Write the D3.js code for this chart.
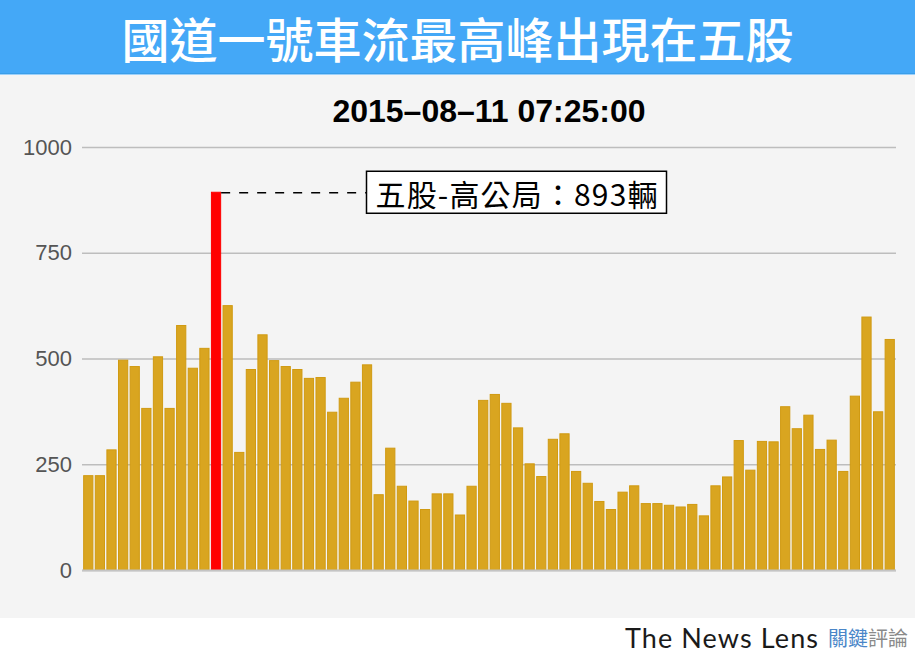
<!DOCTYPE html>
<html>
<head>
<meta charset="utf-8">
<script src="https://cdn.jsdelivr.net/npm/d3@7"></script>
<style>
  html, body { margin: 0; padding: 0; background: #ffffff; }
  svg { display: block; }
</style>
</head>
<body>
<div id="chart"></div>
<script>
// ---- data ----
const titleText = "國道一號車流最高峰出現在五股";
const subtitleText = "2015–08–11 07:25:00";
const values = [
  223, 223, 284, 496, 481, 382, 504, 382, 578, 477,
  524, 893, 625, 278, 474, 556, 495, 481, 474, 453,
  455, 373, 406, 444, 485, 178, 288, 198, 163, 143,
  180, 180, 130, 198, 401, 415, 394, 336, 251, 221,
  309, 322, 233, 205, 162, 143, 184, 199, 157, 157,
  153, 149, 155, 128, 199, 220, 306, 236, 304, 303,
  386, 334, 366, 285, 307, 233, 411, 598, 374, 545
];
const categories = values.map((v, i) => i + 1);
const yTicks = [0, 250, 500, 750, 1000];
const peakLabel = "五股-高公局";
const peakUnit = "輛";

// ---- layout ----
const W = 915, H = 657;
const plot = { left: 82, right: 896, top: 147, bottom: 570 };

const svg = d3.select("#chart").append("svg")
  .attr("width", W).attr("height", H);

// backgrounds
svg.append("rect").attr("x", 0).attr("y", 0).attr("width", W).attr("height", H).attr("fill", "#ffffff");
svg.append("rect").attr("x", 0).attr("y", 75).attr("width", W).attr("height", 543).attr("fill", "#f4f4f4");
svg.append("rect").attr("x", 0).attr("y", 0).attr("width", W).attr("height", 73).attr("fill", "#44a8f7");
svg.append("rect").attr("x", 0).attr("y", 73).attr("width", W).attr("height", 1).attr("fill", "#3a9ee9");
svg.append("rect").attr("x", 0).attr("y", 74).attr("width", W).attr("height", 1).attr("fill", "#9cd0fa");

// title
svg.append("text")
  .attr("x", W / 2).attr("y", 37)
  .attr("text-anchor", "middle")
  .attr("dominant-baseline", "central")
  .attr("fill", "#ffffff")
  .attr("font-family", "'Noto Sans CJK TC', 'Noto Sans CJK SC', sans-serif")
  .attr("font-weight", 500)
  .attr("font-size", 48)
  .text(titleText);

// subtitle
svg.append("text")
  .attr("x", (plot.left + plot.right) / 2).attr("y", 122)
  .attr("text-anchor", "middle")
  .attr("fill", "#000000")
  .attr("font-family", "'Liberation Sans', Arial, sans-serif")
  .attr("font-weight", "bold")
  .attr("font-size", 32)
  .text(subtitleText);

// scales
const x = d3.scaleBand()
  .domain(categories)
  .range([plot.left, plot.right])
  .paddingInner(0.12)
  .paddingOuter(0.1);

const y = d3.scaleLinear()
  .domain([0, 1000])
  .range([plot.bottom, plot.top]);

// grid / axis
const yAxis = d3.axisLeft(y)
  .tickValues(yTicks)
  .tickSize(-(plot.right - plot.left))
  .tickPadding(10)
  .tickFormat(d3.format("d"));

const gAxis = svg.append("g")
  .attr("transform", `translate(${plot.left},0)`)
  .call(yAxis);
gAxis.select(".domain").remove();
gAxis.selectAll(".tick line")
  .attr("stroke", "#bdbdbd")
  .attr("stroke-width", 1.5);
gAxis.selectAll(".tick text")
  .attr("fill", "#555555")
  .attr("font-family", "'Liberation Sans', Arial, sans-serif")
  .attr("font-size", 22);

// bars
const peakIdx = values.indexOf(d3.max(values));
svg.append("g").selectAll("rect")
  .data(values)
  .join("rect")
  .attr("x", (d, i) => x(categories[i]) + 0.5)
  .attr("width", x.bandwidth() - 1)
  .attr("y", d => y(d))
  .attr("height", d => y(0) - y(d))
  .attr("fill", (d, i) => i === peakIdx ? "#ff0000" : "#d9a520")
  .attr("stroke", (d, i) => i === peakIdx ? "#ff0000" : "#d09a12")
  .attr("stroke-width", 1);

// zero baseline
svg.append("line")
  .attr("x1", plot.left).attr("x2", plot.right)
  .attr("y1", y(0) + 0.5).attr("y2", y(0) + 0.5)
  .attr("stroke", "#c4c4c4").attr("stroke-width", 2);

// annotation
const peakVal = values[peakIdx];
const peakX = x(categories[peakIdx]) + x.bandwidth();
const peakY = y(peakVal);
const boxX = 366.5, boxW = 300, boxH = 42;

svg.append("line")
  .attr("x1", peakX).attr("x2", boxX)
  .attr("y1", peakY + 0.5).attr("y2", peakY + 0.5)
  .attr("stroke", "#000").attr("stroke-width", 1.5)
  .attr("stroke-dasharray", "9,9");

svg.append("rect")
  .attr("x", boxX).attr("y", peakY - 21)
  .attr("width", boxW).attr("height", boxH)
  .attr("fill", "#ffffff")
  .attr("stroke", "#000").attr("stroke-width", 1.5);

svg.append("text")
  .attr("x", boxX + 9).attr("y", peakY + 1)
  .attr("dominant-baseline", "central")
  .attr("fill", "#000")
  .attr("font-family", "'Noto Sans CJK TC', sans-serif")
  .attr("font-size", 30)
  .attr("textLength", 282)
  .attr("lengthAdjust", "spacing")
  .text(`${peakLabel}：${peakVal}${peakUnit}`);

// footer logo
svg.append("text")
  .attr("x", 625).attr("y", 648)
  .attr("fill", "#1a1a1a")
  .attr("font-family", "Lato, 'Open Sans', sans-serif")
  .attr("font-weight", 400)
  .attr("font-size", 27)
  .attr("textLength", 193)
  .attr("lengthAdjust", "spacing")
  .text("The News Lens");

const logo = svg.append("text")
  .attr("x", 828).attr("y", 646)
  .attr("font-family", "'Noto Sans CJK TC', sans-serif")
  .attr("font-size", 20);
logo.append("tspan").attr("fill", "#4a86c8").text("關鍵");
logo.append("tspan").attr("fill", "#8a8a8a").text("評論");
</script>
</body>
</html>
